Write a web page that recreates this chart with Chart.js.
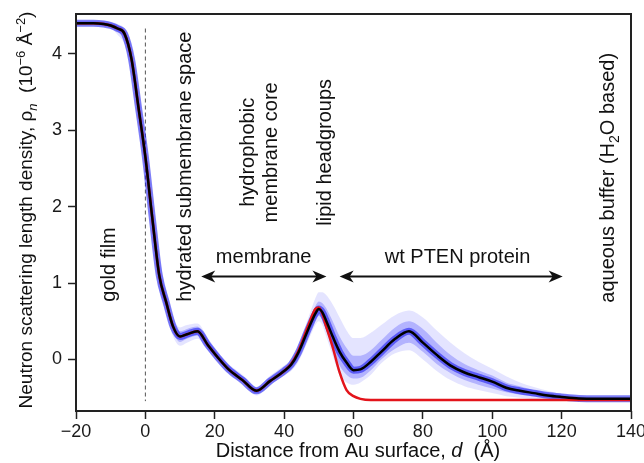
<!DOCTYPE html>
<html>
<head>
<meta charset="utf-8">
<script src="https://cdn.jsdelivr.net/npm/chart.js@4.4.0/dist/chart.umd.min.js"></script>
<style>
  body { margin: 0; background: #fff; }
  #wrap { width: 644px; height: 463px; }
</style>
</head>
<body>
<div id="wrap"><canvas id="sld" width="644" height="463"></canvas></div>
<script>
const FONT = '"Liberation Sans", Arial, Helvetica, sans-serif';

// distance from Au surface (Å)
const distance = [-20, -15, -12, -10, -8, -6, -4, -2, 0, 2, 4, 6, 8, 10, 12, 15, 18, 21, 24, 28, 32, 36, 40, 42,
  44, 47, 49, 50, 51, 52, 54, 56, 58, 60, 62, 65, 68, 72, 76, 80, 84, 88, 92, 96, 100, 104, 108, 112, 116,
  120, 125, 130, 135, 140];

// median profile (black)
const median = [4.40, 4.40, 4.39, 4.37, 4.33, 4.26, 3.93, 3.30, 2.65, 1.85, 1.10, 0.75, 0.43, 0.30, 0.33, 0.37,
  0.19, 0.02, -0.13, -0.27, -0.41, -0.28, -0.15, -0.07, 0.08, 0.40, 0.60, 0.66, 0.62, 0.52, 0.30, 0.10, -0.04,
  -0.14, -0.13, -0.03, 0.10, 0.27, 0.37, 0.22, 0.06, -0.08, -0.17, -0.23, -0.29, -0.37, -0.41, -0.44, -0.47,
  -0.49, -0.51, -0.515, -0.515, -0.515];

// membrane only profile (red)
const membrane = [4.40, 4.40, 4.39, 4.37, 4.33, 4.26, 3.93, 3.30, 2.65, 1.85, 1.10, 0.75, 0.43, 0.30, 0.33, 0.37,
  0.19, 0.02, -0.13, -0.27, -0.41, -0.28, -0.15, -0.06, 0.10, 0.45, 0.66, 0.68, 0.60, 0.45, 0.16, -0.17, -0.40,
  -0.48, -0.515, -0.53, -0.53, -0.53, -0.53, -0.53, -0.53, -0.53, -0.53, -0.53, -0.53, -0.53, -0.53, -0.53, -0.53,
  -0.53, -0.53, -0.53, -0.53, -0.53];

// spread of the profile ensemble (blue), outer and inner envelopes
const outerUpper = [4.43, 4.43, 4.43, 4.42, 4.39, 4.33, 4.10, 3.52, 2.88, 2.10, 1.35, 0.92, 0.56, 0.42, 0.45, 0.47,
  0.28, 0.09, -0.06, -0.20, -0.36, -0.21, -0.08, 0.00, 0.18, 0.55, 0.80, 0.88, 0.88, 0.85, 0.72, 0.55, 0.38,
  0.28, 0.28, 0.35, 0.45, 0.58, 0.64, 0.55, 0.38, 0.22, 0.08, -0.03, -0.12, -0.22, -0.30, -0.36, -0.41,
  -0.45, -0.48, -0.49, -0.49, -0.49];
const outerLower = [4.38, 4.38, 4.36, 4.33, 4.25, 4.12, 3.76, 3.10, 2.42, 1.62, 0.90, 0.60, 0.30, 0.18, 0.22, 0.27,
  0.12, -0.03, -0.18, -0.31, -0.47, -0.33, -0.21, -0.15, -0.04, 0.25, 0.45, 0.50, 0.45, 0.32, 0.05, -0.20, -0.30,
  -0.33, -0.30, -0.20, -0.05, 0.08, 0.12, 0.00, -0.15, -0.27, -0.35, -0.40, -0.44, -0.48, -0.50, -0.52, -0.53,
  -0.54, -0.55, -0.55, -0.55, -0.55];
const innerUpper = [4.42, 4.42, 4.41, 4.40, 4.37, 4.30, 4.02, 3.42, 2.78, 1.98, 1.22, 0.84, 0.50, 0.37, 0.40, 0.43,
  0.25, 0.07, -0.08, -0.22, -0.38, -0.24, -0.11, -0.03, 0.13, 0.47, 0.70, 0.76, 0.74, 0.68, 0.50, 0.30, 0.15,
  0.05, 0.05, 0.12, 0.25, 0.42, 0.50, 0.40, 0.22, 0.06, -0.06, -0.14, -0.21, -0.30, -0.35, -0.40, -0.44,
  -0.47, -0.49, -0.50, -0.50, -0.50];
const innerLower = [4.39, 4.39, 4.37, 4.35, 4.29, 4.20, 3.86, 3.20, 2.52, 1.72, 1.00, 0.67, 0.36, 0.23, 0.27, 0.31,
  0.15, 0.00, -0.16, -0.29, -0.44, -0.30, -0.18, -0.11, 0.02, 0.32, 0.52, 0.57, 0.52, 0.40, 0.15, -0.08, -0.20,
  -0.25, -0.24, -0.14, 0.00, 0.14, 0.22, 0.10, -0.06, -0.18, -0.27, -0.33, -0.38, -0.43, -0.46, -0.48, -0.50,
  -0.52, -0.53, -0.53, -0.53, -0.53];

const xTicks = [-20, 0, 20, 40, 60, 80, 100, 120, 140];
const yTicks = [0, 1, 2, 3, 4];

const pts = arr => distance.map((d, i) => ({ x: d, y: arr[i] }));

function fontFor(p, size) {
  const s = (p.sub || p.sup) ? Math.round(size * 0.7) : size;
  return (p.it ? 'italic ' : '') + s + 'px ' + FONT;
}
function richWidth(ctx, parts, size) {
  let w = 0;
  for (const p of parts) { ctx.font = fontFor(p, size); w += ctx.measureText(p.t).width; }
  return w;
}
function drawRich(ctx, parts, size, x, y, angle, align) {
  ctx.save();
  ctx.translate(x, y);
  ctx.rotate(angle);
  ctx.textAlign = 'left';
  ctx.textBaseline = 'alphabetic';
  let cx = align === 'center' ? -richWidth(ctx, parts, size) / 2 : 0;
  for (const p of parts) {
    ctx.font = fontFor(p, size);
    const dy = p.sup ? -size * 0.38 : p.sub ? size * 0.24 : 0;
    ctx.fillText(p.t, cx, dy);
    cx += ctx.measureText(p.t).width;
  }
  ctx.restore();
}

function arrow(ctx, x1, x2, y) {
  ctx.beginPath();
  ctx.moveTo(x1 + 6, y);
  ctx.lineTo(x2 - 6, y);
  ctx.stroke();
  for (const [tip, dir] of [[x1, 1], [x2, -1]]) {
    ctx.beginPath();
    ctx.moveTo(tip, y);
    ctx.lineTo(tip + dir * 14, y - 6);
    ctx.lineTo(tip + dir * 10, y);
    ctx.lineTo(tip + dir * 14, y + 6);
    ctx.closePath();
    ctx.fill();
  }
}

// region labels: [text parts, distance, rho, rotated, align]
const labels = [
  [[{ t: 'gold film' }], -8.7, 0.756, true, 'left'],
  [[{ t: 'hydrated submembrane space' }], 13.1, 0.756, true, 'left'],
  [[{ t: 'hydrophobic' }], 31.3, 2.71, true, 'center'],
  [[{ t: 'membrane core' }], 38.0, 2.71, true, 'center'],
  [[{ t: 'lipid headgroups' }], 53.5, 2.71, true, 'center'],
  [[{ t: 'aqueous buffer (H' }, { t: '2', sub: true }, { t: 'O based)' }], 135.2, 0.743, true, 'left'],
  [[{ t: 'membrane' }], 34.1, 1.265, false, 'center'],
  [[{ t: 'wt PTEN protein' }], 90.0, 1.265, false, 'center']
];

const decorations = {
  id: 'decorations',
  beforeDatasetsDraw(chart) {
    const { ctx, scales: { x, y } } = chart;
    ctx.save();
    ctx.strokeStyle = '#555';
    ctx.lineWidth = 1;
    ctx.setLineDash([4, 3]);
    ctx.beginPath();
    ctx.moveTo(x.getPixelForValue(0), y.getPixelForValue(4.33));
    ctx.lineTo(x.getPixelForValue(0), y.getPixelForValue(-0.545));
    ctx.stroke();
    ctx.restore();
  },
  afterDraw(chart) {
    const { ctx, chartArea: a, scales: { x, y } } = chart;
    ctx.save();
    ctx.strokeStyle = '#222';
    ctx.lineWidth = 2;
    ctx.strokeRect(a.left, a.top, a.right - a.left, a.bottom - a.top);

    ctx.fillStyle = '#111';
    for (const [parts, d, v, rot, align] of labels) {
      drawRich(ctx, parts, 20, x.getPixelForValue(d), y.getPixelForValue(v), rot ? -Math.PI / 2 : 0, align);
    }

    ctx.strokeStyle = '#111';
    ctx.lineWidth = 2;
    const ay = y.getPixelForValue(1.086);
    arrow(ctx, x.getPixelForValue(16.1), x.getPixelForValue(52.2), ay);
    arrow(ctx, x.getPixelForValue(56.0), x.getPixelForValue(120.3), ay);

    // axis titles
    drawRich(ctx, [
      { t: 'Neutron scattering length density, \u03c1' }, { t: 'n', sub: true, it: true },
      { t: '  (10' }, { t: '\u22126', sup: true }, { t: ' \u00c5' }, { t: '\u22122', sup: true }, { t: ')' }
    ], 19, 32, 210, -Math.PI / 2, 'center');
    drawRich(ctx, [
      { t: 'Distance from Au surface, ' }, { t: 'd', it: true }, { t: '  (\u00c5)' }
    ], 20, 358, 457, 0, 'center');
    ctx.restore();
  }
};

const line = (data, color, width, order) => ({
  data: pts(data), borderColor: color, borderWidth: width, pointRadius: 0,
  fill: false, cubicInterpolationMode: 'monotone', order
});

new Chart(document.getElementById('sld'), {
  type: 'line',
  data: {
    datasets: [
      line(outerLower, 'rgba(0,0,0,0)', 0, 6),
      Object.assign(line(outerUpper, 'rgba(0,0,0,0)', 0, 5), { fill: '-1', backgroundColor: 'rgba(90,90,255,0.16)' }),
      line(innerLower, 'rgba(0,0,0,0)', 0, 4),
      Object.assign(line(innerUpper, 'rgba(0,0,0,0)', 0, 3), { fill: '-1', backgroundColor: 'rgba(50,50,250,0.28)' }),
      line(median, 'rgba(20,20,240,0.55)', 7, 2),
      line(membrane, '#e3141b', 2.5, 1),
      line(median, '#000', 2.5, 0)
    ]
  },
  options: {
    responsive: false,
    animation: false,
    devicePixelRatio: 1,
    layout: { padding: { top: 14, right: 13, left: 0, bottom: 0 } },
    plugins: { legend: { display: false }, tooltip: { enabled: false } },
    scales: {
      x: {
        type: 'linear', min: -20, max: 140,
        afterBuildTicks: s => { s.ticks = xTicks.map(v => ({ value: v })); },
        afterFit: s => { s.height = 52; s.paddingLeft = 0; s.paddingRight = 0; },
        border: { display: false },
        grid: { drawOnChartArea: false, drawTicks: true, tickLength: 8, tickColor: '#222', tickWidth: 1.5 },
        ticks: {
          color: '#1a1a1a', padding: 2, maxRotation: 0,
          font: { family: FONT, size: 18 },
          callback: v => String(v).replace('-', '\u2212')
        }
      },
      y: {
        type: 'linear', min: -0.674, max: 4.52,
        afterBuildTicks: s => { s.ticks = yTicks.map(v => ({ value: v })); },
        afterFit: s => { s.width = 76; s.paddingTop = 0; s.paddingBottom = 0; },
        border: { display: false },
        grid: { drawOnChartArea: false, drawTicks: true, tickLength: 8, tickColor: '#222', tickWidth: 1.5 },
        ticks: { color: '#1a1a1a', padding: 6, font: { family: FONT, size: 18 } }
      }
    }
  },
  plugins: [decorations]
});
</script>
</body>
</html>
